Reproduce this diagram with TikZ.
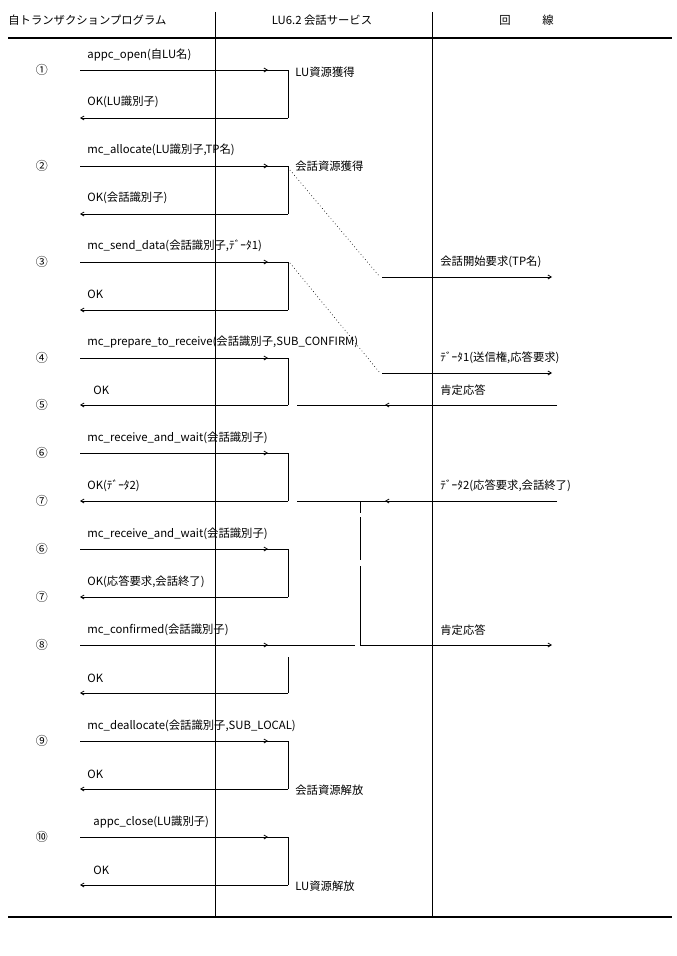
\documentclass[tikz,border=0pt]{standalone}
\usepackage{fontspec}
\setmainfont{Noto Sans CJK JP}
\usetikzlibrary{arrows.meta}
\begin{document}
\begin{tikzpicture}[x=0.75pt,y=-0.75pt,line width=0.6pt,
  lbl/.style={anchor=west,inner sep=0pt,font=\fontsize{8.5}{10}\selectfont},
  num/.style={inner sep=0pt,font=\fontsize{9}{10}\selectfont},
  arr/.style={-{Straight Barb[length=2.5pt,width=3pt]}},
  dots/.style={dotted,line width=0.5pt}]
\useasboundingbox (0,0) rectangle (676,956);
% header
\node[lbl] (h1) at (8,20) {自トランザクションプログラム};
\node[lbl,anchor=center] (h2) at (322,20) {LU6.2 会話サービス};
\node[lbl,anchor=center] (h3) at (505,20) {回};
\node[lbl,anchor=center] (h4) at (548,20) {線};
\draw[line width=1.5pt] (8,38) -- (672,38);
\draw[line width=1.5pt] (8,917) -- (672,917);
\draw (215,12) -- (215,918);
\draw (432,12) -- (432,918);
% generic request/response boxes
\foreach \n/\a/\b in {①/70/118,②/166/214,③/262/310,④/358/405,⑥/453/501,⑥/549/597,⑨/741/789,⑩/837/885}{
  \draw[arr] (80,\a) -- (268,\a);
  \draw (266,\a) -- (288,\a) -- (288,\b);
  \draw[arr] (288,\b) -- (80,\b);
}
\foreach \n/\y in {①/70,②/166,③/262,④/358,⑤/405,⑥/453,⑦/501,⑥/549,⑦/597,⑧/645,⑨/741,⑩/837}{
  \node[num] at (42,\y) {\n};
}
% row 8
\draw[arr] (80,645) -- (268,645);
\draw (266,645) -- (355,645);
\draw (288,657) -- (288,693);
\draw[arr] (288,693) -- (80,693);
% labels left
\node[lbl] at (87,55) {appc\_open(自LU名)};
\node[lbl] at (87,102) {OK(LU識別子)};
\node[lbl] at (87,150) {mc\_allocate(LU識別子,TP名)};
\node[lbl] at (87,198) {OK(会話識別子)};
\node[lbl] at (87,246) {mc\_send\_data(会話識別子,ﾃﾞｰﾀ1)};
\node[lbl] at (87,294) {OK};
\node[lbl] at (87,342) {mc\_prepare\_to\_receive(会話識別子,SUB\_CONFIRM)};
\node[lbl] at (93,390) {OK};
\node[lbl] at (87,438) {mc\_receive\_and\_wait(会話識別子)};
\node[lbl] at (87,486) {OK(ﾃﾞｰﾀ2)};
\node[lbl] at (87,534) {mc\_receive\_and\_wait(会話識別子)};
\node[lbl] at (87,582) {OK(応答要求,会話終了)};
\node[lbl] at (87,630) {mc\_confirmed(会話識別子)};
\node[lbl] at (87,678) {OK};
\node[lbl] at (87,726) {mc\_deallocate(会話識別子,SUB\_LOCAL)};
\node[lbl] at (87,774) {OK};
\node[lbl] at (93,822) {appc\_close(LU識別子)};
\node[lbl] at (93,870) {OK};
% middle labels
\node[lbl] at (295,72) {LU資源獲得};
\node[lbl] at (295,166) {会話資源獲得};
\node[lbl] at (295,790) {会話資源解放};
\node[lbl] at (295,886) {LU資源解放};
% dotted and line arrows
\draw[dots] (290,170) -- (380,277);
\draw[dots] (290,263) -- (380,373);
\draw[arr] (382,277) -- (552,277);
\node[lbl] at (440,262) {会話開始要求(TP名)};
\draw[arr] (382,373) -- (552,373);
\node[lbl] at (440,358) {ﾃﾞｰﾀ1(送信権,応答要求)};
\draw[arr] (557,405) -- (385,405);
\draw (390,405) -- (297,405);
\node[lbl] at (440,390) {肯定応答};
\draw[arr] (557,501) -- (385,501);
\draw (390,501) -- (297,501);
\node[lbl] at (440,486) {ﾃﾞｰﾀ2(応答要求,会話終了)};
\draw (360,501) -- (360,513);
\draw (360,517) -- (360,560);
\draw (360,566) -- (360,645);
\draw[arr] (360,645) -- (552,645);
\node[lbl] at (440,630) {肯定応答};
\end{tikzpicture}
\end{document}
